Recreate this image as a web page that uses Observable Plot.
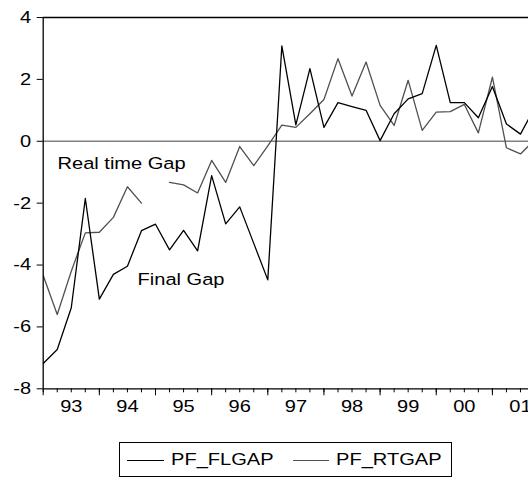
<!DOCTYPE html>
<html><head><meta charset="utf-8">
<script src="https://cdn.jsdelivr.net/npm/d3@7"></script>
<script src="https://cdn.jsdelivr.net/npm/@observablehq/plot@0.6"></script>
<style>
body{margin:0;background:#fff;font-family:"Liberation Sans",Arial,sans-serif;}
#wrap{position:relative;width:528px;height:477px;overflow:hidden;background:#fff;}
#chart{position:absolute;left:0;top:0;}
#legend{position:absolute;left:119px;top:442px;width:333px;height:35px;border:1px solid #000;box-sizing:border-box;background:#fff;}
#legend .sw{position:absolute;top:17px;height:0;border-top:1.3px solid #000;}
#legend .lab{position:absolute;top:0;line-height:33px;font-size:17px;color:#000;transform:scaleX(1.18);transform-origin:0 50%;white-space:nowrap;}
</style>
</head><body>
<div id="wrap"><div id="chart"></div>
<div id="legend">
  <div class="sw" style="left:7px;width:37px;border-color:#000"></div>
  <div class="lab" style="left:51px">PF_FLGAP</div>
  <div class="sw" style="left:173px;width:36px;border-color:#505050"></div>
  <div class="lab" style="left:216px">PF_RTGAP</div>
</div></div>
<script>
const periods = ["1993Q1","1993Q2","1993Q3","1993Q4","1994Q1","1994Q2","1994Q3","1994Q4",
  "1995Q1","1995Q2","1995Q3","1995Q4","1996Q1","1996Q2","1996Q3","1996Q4",
  "1997Q1","1997Q2","1997Q3","1997Q4","1998Q1","1998Q2","1998Q3","1998Q4",
  "1999Q1","1999Q2","1999Q3","1999Q4","2000Q1","2000Q2","2000Q3","2000Q4",
  "2001Q1","2001Q2","2001Q3","2001Q4"];
const pf_flgap = [-7.18,-6.73,-5.38,-1.85,-5.10,-4.30,-4.04,-2.89,
  -2.68,-3.51,-2.88,-3.54,-1.11,-2.67,-2.12,-3.30,
  -4.48,3.08,0.53,2.35,0.45,1.25,1.12,1.00,
  0.02,0.89,1.37,1.54,3.10,1.25,1.25,0.76,
  1.77,0.56,0.23,1.08];
const pf_rtgap = [-4.34,-5.60,-4.20,-2.96,-2.94,-2.46,-1.47,-2.00,
  null,-1.33,-1.41,-1.67,-0.62,-1.33,-0.17,-0.79,
  -0.15,0.52,0.45,0.89,1.35,2.67,1.46,2.56,
  1.16,0.51,1.97,0.35,0.94,0.96,1.19,0.27,
  2.07,-0.21,-0.41,0.04];
const yTicks = [-8,-6,-4,-2,0,2,4];
const years = [1993,1994,1995,1996,1997,1998,1999,2000,2001];
const yearLabels = ["93","94","95","96","97","98","99","00","01"];
const annotations = [
  {label:"Real time Gap", t:1993.255, v:-0.71},
  {label:"Final Gap", t:1994.68, v:-4.48}
];
const xStart = 1993, xEnd = 2001.643;

const toNum = p => +p.slice(0,4) + (+p.slice(5)-1)/4;
const rows = periods.map((p,i)=>({t:toNum(p), fl:pf_flgap[i], rt:pf_rtgap[i]}));
const quarterTicks = periods.map(toNum);
const font = '"Liberation Sans",Arial,sans-serif';

const svg = Plot.plot({
  width:528, height:430,
  marginTop:17, marginRight:0, marginBottom:41.7, marginLeft:42.7,
  x:{type:"linear", domain:[xStart,xEnd], label:null},
  y:{domain:[-8,4], label:null},
  style:{fontFamily:font, fontSize:"17px", color:"#000", background:"#fff"},
  marks:[
    Plot.ruleY([0],{stroke:"#808080",strokeWidth:1.3}),
    Plot.lineY(rows,{x:"t",y:"rt",stroke:"#505050",strokeWidth:1.3,clip:true}),
    Plot.lineY(rows,{x:"t",y:"fl",stroke:"#000",strokeWidth:1.3,clip:true}),
    Plot.ruleY([4],{stroke:"#000",strokeWidth:1.5}),
    Plot.ruleY([-8],{stroke:"#000",strokeWidth:1.3}),
    Plot.ruleX([xStart],{stroke:"#000",strokeWidth:1.3}),
    Plot.axisY({ticks:yTicks, tickSize:6, tickPadding:6, tickFormat:d=>String(d), label:null, fontSize:17}),
    Plot.axisX({ticks:quarterTicks, tickSize:4, tickFormat:()=>"", label:null}),
    Plot.axisX({ticks:years, tickSize:7, tickFormat:()=>"", label:null}),
    Plot.axisX({ticks:years.map(y=>y+0.5), tickSize:0, tickPadding:11,
      tickFormat:d=>yearLabels[years.indexOf(Math.floor(d))], label:null, fontSize:17}),
    Plot.text(annotations,{x:"t",y:"v",text:"label",textAnchor:"start",lineAnchor:"middle",fontSize:17,fill:"#000"})
  ]
});
document.getElementById("chart").appendChild(svg);
// widen glyphs horizontally around each text's own anchor
const SX = 1.18;
Array.from(svg.querySelectorAll("text")).forEach(t=>{
  if (!t.textContent) return;
  let bb;
  try { bb = t.getBBox(); } catch(e) { return; }
  if (!bb || !isFinite(bb.x)) return;
  const anchor = getComputedStyle(t).textAnchor;
  const ax = anchor === "end" ? bb.x + bb.width : anchor === "middle" ? bb.x + bb.width/2 : bb.x;
  const g = document.createElementNS("http://www.w3.org/2000/svg","g");
  const tr = t.getAttribute("transform");
  if (tr) { g.setAttribute("transform", tr); }
  t.parentNode.insertBefore(g, t);
  g.appendChild(t);
  t.setAttribute("transform", `translate(${ax},0) scale(${SX},1) translate(${-ax},0)`);
});
</script>
</body></html>
